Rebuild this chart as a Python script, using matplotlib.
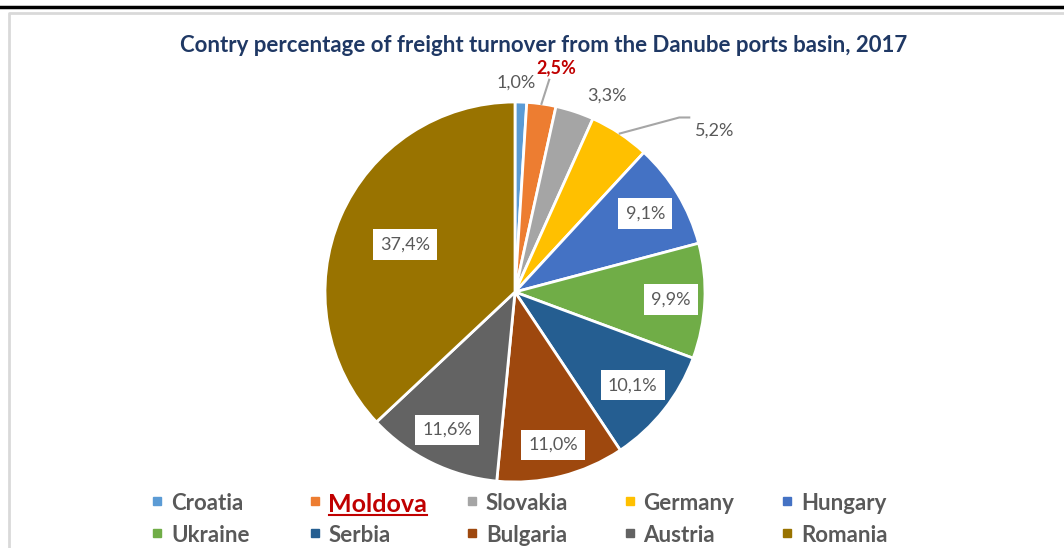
import numpy as np
import matplotlib.pyplot as plt
from matplotlib.patches import Rectangle

countries = ['Croatia', 'Moldova', 'Slovakia', 'Germany', 'Hungary',
             'Ukraine', 'Serbia', 'Bulgaria', 'Austria', 'Romania']
shares = [1.0, 2.5, 3.3, 5.2, 9.1, 9.9, 10.1, 11.0, 11.6, 37.4]
labels = ['1,0%', '2,5%', '3,3%', '5,2%', '9,1%',
          '9,9%', '10,1%', '11,0%', '11,6%', '37,4%']
colors = ['#5B9BD5', '#ED7D31', '#A5A5A5', '#FFC000', '#4472C4',
          '#70AD47', '#255E91', '#9E480E', '#636363', '#997300']
title = 'Contry percentage of freight turnover from the Danube ports basin, 2017'

# label placement: (distance in radii, angle shift in degrees)
label_pos = [(1.10, 1.5), (1.20, -2.4), (1.14, -6.7), (1.35, -17.5),
             (0.80, 0), (0.82, 0), (0.79, 0), (0.83, 0), (0.81, 0), (0.63, 0)]

W, H = 1064, 548
FONT = 'Lato'
GREY = '#595959'

fig = plt.figure(figsize=(W / 100, H / 100), dpi=100)
ax = fig.add_axes([0, 0, 1, 1])

cx, cy, rad = 515, H - 292, 190
wedges, _ = ax.pie(shares, colors=colors, startangle=90, counterclock=False,
                   center=(cx, cy), radius=rad,
                   wedgeprops=dict(edgecolor='white', linewidth=2))
ax.set_xlim(0, W)
ax.set_ylim(0, H)
ax.axis('off')

# page decorations: rule above and chart frame
ax.plot([0, W], [H - 7, H - 7], color='black', lw=2.5, clip_on=False)
ax.plot([9, 9, W + 5], [-5, H - 13, H - 13], color='#D9D9D9', lw=2, clip_on=False)

ax.text(544, H - 45, title, ha='center', va='center', fontsize=16,
        fontweight='bold', color='#1F3864', family=FONT)

for i, w in enumerate(wedges):
    mid = np.deg2rad((w.theta1 + w.theta2) / 2 + label_pos[i][1])
    d = label_pos[i][0] * rad
    x, y = cx + d * np.cos(mid), cy + d * np.sin(mid)
    if i < 4:
        if i == 1:
            ax.text(x, y, labels[i], ha='center', va='center', fontsize=13,
                    fontweight='bold', color='#C00000', family=FONT)
        else:
            ax.text(x, y, labels[i], ha='center', va='center', fontsize=13,
                    color=GREY, family=FONT)
    else:
        ax.text(x, y, labels[i], ha='center', va='center', fontsize=13,
                color=GREY, family=FONT,
                bbox=dict(boxstyle='square,pad=0.4', fc='white', ec='none'))

# leader lines for Moldova and Germany
for i, pts in [(1, [(8, 13)]), (3, [(-35, 13), (-25, 13)])]:
    w = wedges[i]
    mid = np.deg2rad((w.theta1 + w.theta2) / 2)
    ex, ey = cx + rad * np.cos(mid), cy + rad * np.sin(mid)
    lm = np.deg2rad((w.theta1 + w.theta2) / 2 + label_pos[i][1])
    lx = cx + label_pos[i][0] * rad * np.cos(lm)
    ly = cy + label_pos[i][0] * rad * np.sin(lm)
    if i == 1:
        xs, ys = [ex, lx - 7], [ey, ly - 12]
    else:
        xs = [ex] + [lx + p[0] for p in pts]
        ys = [ey] + [ly + p[1] for p in pts]
    ax.plot(xs, ys, color='#A6A6A6', lw=1.5)

# legend, two rows of five
for i, name in enumerate(countries):
    row, col = divmod(i, 5)
    mx = 157 + col * 157.5
    my = H - (501 + row * 32)
    ax.add_patch(Rectangle((mx - 4, my - 4), 8, 8, color=colors[i]))
    if name == 'Moldova':
        t = ax.text(mx + 14, my - 1, name, ha='left', va='center_baseline',
                    fontsize=18, fontweight='bold', color='#C00000', family=FONT)
        fig.canvas.draw()
        bb = t.get_window_extent().transformed(ax.transData.inverted())
        ax.plot([bb.x0, bb.x1], [bb.y0 + 1, bb.y0 + 1], color='#C00000', lw=1.5)
    else:
        ax.text(mx + 14, my, name, ha='left', va='center_baseline', fontsize=16,
                fontweight='bold', color=GREY, family=FONT)

fig.savefig('out.png', dpi=100)
